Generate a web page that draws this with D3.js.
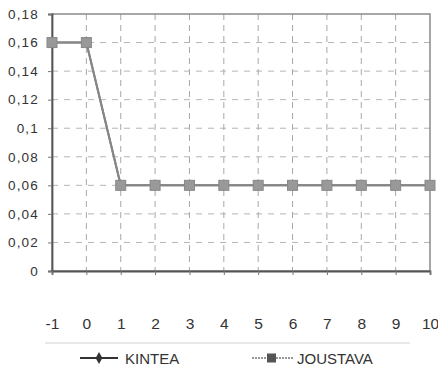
<!DOCTYPE html>
<html><head><meta charset="utf-8">
<script src="https://cdn.jsdelivr.net/npm/d3@7"></script>
<style>body{margin:0;background:#fff}svg{display:block}text{font-family:"Liberation Sans",Arial,sans-serif}</style>
</head><body>
<script>
const xValues = [-1,0,1,2,3,4,5,6,7,8,9,10];
const kintea =   [0.16,0.16,0.06,0.06,0.06,0.06,0.06,0.06,0.06,0.06,0.06,0.06];
const joustava = [0.16,0.16,0.06,0.06,0.06,0.06,0.06,0.06,0.06,0.06,0.06,0.06];
const yTicks = [0,0.02,0.04,0.06,0.08,0.1,0.12,0.14,0.16,0.18];
const seriesNames = ["KINTEA","JOUSTAVA"];

const W=438,H=368, L=52,R=430,T=14,B=271;
const svg=d3.select("body").append("svg").attr("width",W).attr("height",H);
const x=d3.scaleLinear().domain([-1,10]).range([L,R]);
const y=d3.scaleLinear().domain([0,0.18]).range([B,T]);
const fmt=d=>d===0?"0":String(+d.toFixed(2)).replace(".",",");

// grid
const g=svg.append("g");
g.selectAll("line.h").data(yTicks.slice(1,-1)).join("line")
 .attr("x1",L).attr("x2",R).attr("y1",d=>y(d)).attr("y2",d=>y(d))
 .attr("stroke","#b5b5b5").attr("stroke-width",1).attr("stroke-dasharray","6,6");
g.selectAll("line.v").data(xValues.slice(1,-1)).join("line")
 .attr("y1",T).attr("y2",B).attr("x1",d=>x(d)).attr("x2",d=>x(d))
 .attr("stroke","#a8a8a8").attr("stroke-width",1).attr("stroke-dasharray","6,5");
// frame
svg.append("rect").attr("x",L).attr("y",T).attr("width",R-L).attr("height",B-T)
 .attr("fill","none").attr("stroke","#8a8a8a").attr("stroke-width",1.5);

// axes
const yAxis=d3.axisLeft(y).tickValues(yTicks).tickFormat(fmt).tickSize(4).tickPadding(9);
const ya=svg.append("g").attr("transform",`translate(${L},0)`).call(yAxis);
ya.select(".domain").attr("stroke","#555").attr("stroke-width",1.8);
ya.selectAll(".tick line").attr("stroke","#777");
ya.selectAll("text").attr("font-size",13.5).attr("letter-spacing",1.2).attr("fill","#333");

const xAxis=d3.axisBottom(x).tickValues(xValues).tickFormat(d=>d<0?"-"+Math.abs(d):d).tickSize(4).tickPadding(43);
const xa=svg.append("g").attr("transform",`translate(0,${B})`).call(xAxis);
xa.select(".domain").attr("stroke","#555").attr("stroke-width",1.8);
xa.selectAll(".tick line").attr("stroke","#777");
xa.selectAll("text").attr("font-size",15.5).attr("fill","#333");

// separator line
svg.append("line").attr("x1",45).attr("x2",410).attr("y1",343).attr("y2",343)
 .attr("stroke","#d2d2d2").attr("stroke-width",1.2);

const line=d3.line().x((d,i)=>x(xValues[i])).y(d=>y(d));
// KINTEA (behind)
svg.append("path").datum(kintea).attr("d",line).attr("fill","none").attr("stroke","#7a7a7a").attr("stroke-width",2);
svg.selectAll("path.k").data(kintea).join("path").attr("class","k")
 .attr("transform",(d,i)=>`translate(${x(xValues[i])},${y(d)})`)
 .attr("d",d3.symbol(d3.symbolDiamond,30)).attr("fill","#666");
// JOUSTAVA
svg.append("path").datum(joustava).attr("d",line).attr("fill","none").attr("stroke","#868686").attr("stroke-width",2);
svg.selectAll("rect.j").data(joustava).join("rect").attr("class","j")
 .attr("x",(d,i)=>x(xValues[i])-5).attr("y",d=>y(d)-5).attr("width",10).attr("height",10)
 .attr("fill","#999").attr("stroke","#888");

// legend
const lg=svg.append("g");
lg.append("line").attr("x1",80).attr("x2",118).attr("y1",358).attr("y2",358).attr("stroke","#333").attr("stroke-width",2);
lg.append("path").attr("transform","translate(99,358)").attr("d",d3.symbol(d3.symbolDiamond,40)).attr("fill","#333");
lg.append("text").attr("x",125).attr("y",364).attr("font-size",15).attr("fill","#333").text(seriesNames[0]);
lg.append("line").attr("x1",252).attr("x2",293).attr("y1",358).attr("y2",358).attr("stroke","#777").attr("stroke-width",1.5).attr("stroke-dasharray","2,1");
lg.append("rect").attr("x",267).attr("y",353.5).attr("width",9).attr("height",9).attr("fill","#555");
lg.append("text").attr("x",297).attr("y",364).attr("font-size",15).attr("fill","#333").text(seriesNames[1]);
</script>
</body></html>
